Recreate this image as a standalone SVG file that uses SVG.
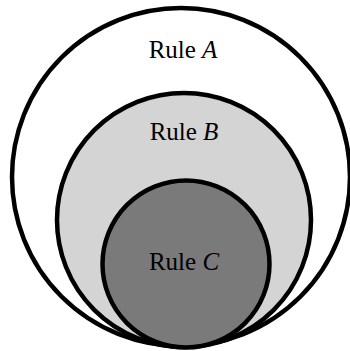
<svg xmlns="http://www.w3.org/2000/svg" width="350" height="351" viewBox="0 0 350 351">
<style>
.c{stroke:#000;stroke-width:4.5}
.t{font-family:"Liberation Serif",serif;font-size:25px;fill:#000;text-anchor:middle}
</style>
<rect width="350" height="351" fill="#fff"/>
<g id="ruleA"><circle class="c" cx="181" cy="177" r="169" fill="#fff"/><text class="t" x="183" y="58">Rule <tspan font-style="italic">A</tspan></text></g>
<g id="ruleB"><circle class="c" cx="184" cy="220" r="127" fill="#d4d4d4"/><text class="t" x="184" y="140">Rule <tspan font-style="italic">B</tspan></text></g>
<g id="ruleC"><circle class="c" cx="186" cy="264" r="83.5" fill="#7a7a7a"/><text class="t" x="184" y="270">Rule <tspan font-style="italic">C</tspan></text></g>
<g id="connectors"/>
</svg>
